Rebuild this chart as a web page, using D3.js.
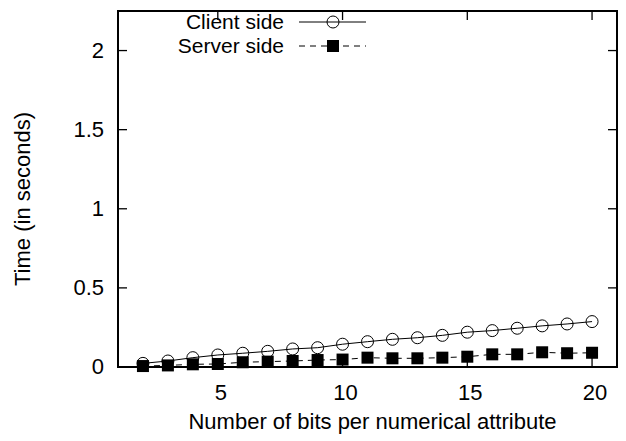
<!DOCTYPE html>
<html><head><meta charset="utf-8">
<script src="https://cdn.jsdelivr.net/npm/d3@7/dist/d3.min.js"></script>
<style>body{margin:0;background:#fff}svg{display:block}text{font-family:"Liberation Sans",Arial,sans-serif;fill:#000}</style>
</head><body>
<svg id="c" width="626" height="441"></svg>
<script>
const bits = [2,3,4,5,6,7,8,9,10,11,12,13,14,15,16,17,18,19,20];
const clientSide = [0.023,0.038,0.059,0.076,0.087,0.099,0.114,0.122,0.144,0.16,0.175,0.185,0.2,0.22,0.23,0.245,0.26,0.272,0.287];
const serverSide = [0.006,0.01,0.017,0.019,0.03,0.034,0.038,0.044,0.047,0.059,0.055,0.055,0.059,0.065,0.08,0.08,0.093,0.087,0.09];
const xTicks = [5,10,15,20];
const yTicks = [0,0.5,1,1.5,2];
const yTickLabels = ["0","0.5","1","1.5","2"];
const seriesNames = ["Client side","Server side"];

const svg = d3.select("#c");
const L=118, R=617, T=11, B=367;
const x = d3.scaleLinear().domain([1,21]).range([L,R]);
const y = d3.scaleLinear().domain([0,2.25]).range([B,T]);
const fs = 22, lfs = 21;

// ticks (inward, mirrored)
const tl = 9;
const g = svg.append("g").attr("stroke","#000").attr("stroke-width",1.3);
xTicks.forEach(v=>{
  g.append("line").attr("x1",x(v)).attr("x2",x(v)).attr("y1",B).attr("y2",B-tl);
  g.append("line").attr("x1",x(v)).attr("x2",x(v)).attr("y1",T).attr("y2",T+tl);
});
yTicks.forEach(v=>{
  g.append("line").attr("x1",L).attr("x2",L+tl).attr("y1",y(v)).attr("y2",y(v));
  g.append("line").attr("x1",R).attr("x2",R-tl).attr("y1",y(v)).attr("y2",y(v));
});
// tick labels
xTicks.forEach(v=>{
  svg.append("text").attr("x",x(v)+3).attr("y",B+33).attr("text-anchor","middle").attr("font-size",fs).text(v);
});
yTicks.forEach((v,i)=>{
  svg.append("text").attr("x",L-14).attr("y",y(v)+7).attr("text-anchor","end").attr("font-size",fs).text(yTickLabels[i]);
});
// axis titles
svg.append("text").attr("x",(L+R)/2+5).attr("y",429).attr("text-anchor","middle").attr("font-size",fs).text("Number of bits per numerical attribute");
svg.append("text").attr("transform","translate(30,"+((T+B)/2+10)+") rotate(-90)").attr("text-anchor","middle").attr("font-size",fs).text("Time (in seconds)");

// lines
const line = d3.line().x(d=>x(d[0])).y(d=>y(d[1]));
const cData = bits.map((b,i)=>[b,clientSide[i]]);
const sData = bits.map((b,i)=>[b,serverSide[i]]);
svg.append("path").attr("d",line(cData)).attr("fill","none").attr("stroke","#000").attr("stroke-width",1);
svg.append("path").attr("d",line(sData)).attr("fill","none").attr("stroke","#000").attr("stroke-width",1).attr("stroke-dasharray","6,5");
svg.selectAll("circle.c").data(cData).enter().append("circle")
  .attr("cx",d=>x(d[0])).attr("cy",d=>y(d[1])).attr("r",6).attr("fill","none").attr("stroke","#000").attr("stroke-width",1);
const sq=12;
svg.selectAll("rect.s").data(sData).enter().append("rect")
  .attr("x",d=>x(d[0])-sq/2).attr("y",d=>y(d[1])-sq/2).attr("width",sq).attr("height",sq).attr("fill","#000");

// legend
const ly=[22,46];
svg.append("text").attr("x",284).attr("y",ly[0]+7).attr("text-anchor","end").attr("font-size",lfs).text(seriesNames[0]);
svg.append("text").attr("x",284).attr("y",ly[1]+7).attr("text-anchor","end").attr("font-size",lfs).text(seriesNames[1]);
svg.append("line").attr("x1",299).attr("x2",366).attr("y1",ly[0]).attr("y2",ly[0]).attr("stroke","#000").attr("stroke-width",1);
svg.append("circle").attr("cx",333).attr("cy",ly[0]).attr("r",6).attr("fill","none").attr("stroke","#000");
svg.append("line").attr("x1",299).attr("x2",366).attr("y1",ly[1]).attr("y2",ly[1]).attr("stroke","#000").attr("stroke-width",1).attr("stroke-dasharray","6,5");
svg.append("rect").attr("x",333-sq/2).attr("y",ly[1]-sq/2).attr("width",sq).attr("height",sq).attr("fill","#000");

// border
svg.append("rect").attr("x",L).attr("y",T).attr("width",R-L).attr("height",B-T).attr("fill","none").attr("stroke","#000").attr("stroke-width",2);
</script>
</body></html>
